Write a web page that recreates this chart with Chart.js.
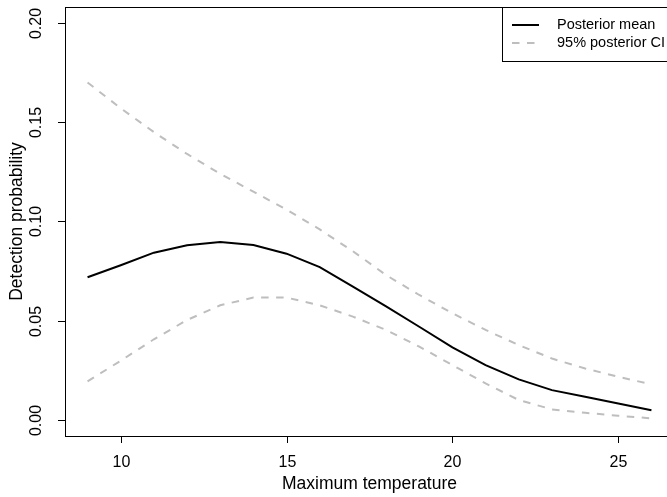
<!DOCTYPE html>
<html>
<head>
<meta charset="utf-8">
<script src="https://cdn.jsdelivr.net/npm/chart.js@4"></script>
<style>
    html, body { margin: 0; padding: 0; background: #fff; }
    #wrap { width: 667px; height: 497px; overflow: hidden; position: relative; }
</style>
</head>
<body>
<div id="wrap"><canvas id="detection_plot_canvas" width="700" height="497"></canvas></div>
<script>
// maximum temperature values (x)
const temps = [9, 10, 11, 12, 13, 14, 15, 16, 17, 18, 19, 20, 21, 22, 23, 24, 25, 26];
const postMean = [0.0719, 0.0780, 0.0843, 0.0880, 0.0897, 0.0882, 0.0838, 0.0770, 0.0672, 0.0573,
                  0.0470, 0.0366, 0.0277, 0.0205, 0.0151, 0.0118, 0.0084, 0.0050];
const ciUpper = [0.170, 0.157, 0.145, 0.134, 0.124, 0.115, 0.106, 0.096, 0.085, 0.073,
                 0.063, 0.0538, 0.0454, 0.0378, 0.0310, 0.0260, 0.0218, 0.0180];
const ciLower = [0.0195, 0.0299, 0.0407, 0.0504, 0.0578, 0.0617, 0.0617, 0.0578, 0.0521, 0.0454,
                 0.0370, 0.0277, 0.0185, 0.0101, 0.0054, 0.0037, 0.0022, 0.0009];
const xTicks = [10, 15, 20, 25];
const yTicks = [0, 0.05, 0.10, 0.15, 0.20];
const legendLabels = ['Posterior mean', '95% posterior CI'];

const FONT = '"Liberation Sans", Arial, Helvetica, sans-serif';
const GREY = '#BEBEBE';

function pts(ys) {
    return temps.map(function(t, i) { return { x: t, y: ys[i] }; });
}

// R style box, axes and legend
const rAxes = {
    id: 'rAxes',
    afterDatasetsDraw: function(chart) {
        const ctx = chart.ctx;
        const a = chart.chartArea;
        const xs = chart.scales.x;
        const ys = chart.scales.y;
        ctx.save();
        ctx.strokeStyle = '#000';
        ctx.lineWidth = 1;
        ctx.strokeRect(a.left + 0.5, a.top + 0.5, a.right - a.left, a.bottom - a.top);

        ctx.fillStyle = '#000';
        ctx.font = '16px ' + FONT;
        ctx.textAlign = 'center';
        ctx.textBaseline = 'middle';
        xTicks.forEach(function(v) {
            const px = Math.round(xs.getPixelForValue(v)) + 0.5;
            ctx.beginPath();
            ctx.moveTo(px, a.bottom);
            ctx.lineTo(px, a.bottom + 7);
            ctx.stroke();
            ctx.fillText(String(v), px, a.bottom + 27);
        });
        yTicks.forEach(function(v) {
            const py = Math.round(ys.getPixelForValue(v)) + 0.5;
            ctx.beginPath();
            ctx.moveTo(a.left, py);
            ctx.lineTo(a.left - 7, py);
            ctx.stroke();
            ctx.save();
            ctx.translate(37, py);
            ctx.rotate(-Math.PI / 2);
            ctx.fillText(v.toFixed(2), 0, 0);
            ctx.restore();
        });

        ctx.font = '17.5px ' + FONT;
        ctx.fillText('Maximum temperature', (a.left + a.right) / 2, 484);
        ctx.save();
        ctx.translate(17, (a.top + a.bottom) / 2);
        ctx.rotate(-Math.PI / 2);
        ctx.fillText('Detection probability', 0, 0);
        ctx.restore();

        // legend, top right corner of the plot
        const lw = 172, lh = 54;
        const lx = a.right - lw, ly = a.top;
        ctx.fillStyle = '#fff';
        ctx.fillRect(lx, ly, lw, lh);
        ctx.strokeStyle = '#000';
        ctx.strokeRect(lx + 0.5, ly + 0.5, lw, lh);
        const rows = [ly + 18, ly + 36];
        ctx.lineWidth = 2;
        ctx.strokeStyle = '#000';
        ctx.beginPath();
        ctx.moveTo(lx + 10, rows[0]);
        ctx.lineTo(lx + 37, rows[0]);
        ctx.stroke();
        ctx.strokeStyle = GREY;
        ctx.setLineDash([7.5, 7.5]);
        ctx.beginPath();
        ctx.moveTo(lx + 10, rows[1]);
        ctx.lineTo(lx + 37, rows[1]);
        ctx.stroke();
        ctx.setLineDash([]);
        ctx.fillStyle = '#000';
        ctx.font = '14.5px ' + FONT;
        ctx.textAlign = 'left';
        legendLabels.forEach(function(t, i) {
            ctx.fillText(t, lx + 55, rows[i]);
        });
        ctx.restore();
    }
};

const detectionPlot = document.getElementById('detection_plot_canvas');
const detectionChart = new Chart(detectionPlot, {
    type: 'line',
    data: {
        datasets: [{
            label: legendLabels[1],
            data: pts(ciUpper),
            borderColor: GREY,
            borderWidth: 2,
            borderDash: [7.5, 7.5],
            pointRadius: 0,
            tension: 0
        }, {
            label: legendLabels[1],
            data: pts(ciLower),
            borderColor: GREY,
            borderWidth: 2,
            borderDash: [7.5, 7.5],
            pointRadius: 0,
            tension: 0
        }, {
            label: legendLabels[0],
            data: pts(postMean),
            borderColor: '#000',
            borderWidth: 2,
            pointRadius: 0,
            tension: 0
        }]
    },
    options: {
        responsive: false,
        animation: false,
        devicePixelRatio: 1,
        layout: {
            padding: { left: 65, top: 7, right: 26, bottom: 61 }
        },
        scales: {
            x: {
                type: 'linear',
                min: 8.32,
                max: 26.68,
                display: false
            },
            y: {
                min: -0.008,
                max: 0.208,
                display: false
            }
        },
        plugins: {
            legend: { display: false },
            tooltip: { enabled: false }
        }
    },
    plugins: [rAxes]
});
</script>
</body>
</html>
